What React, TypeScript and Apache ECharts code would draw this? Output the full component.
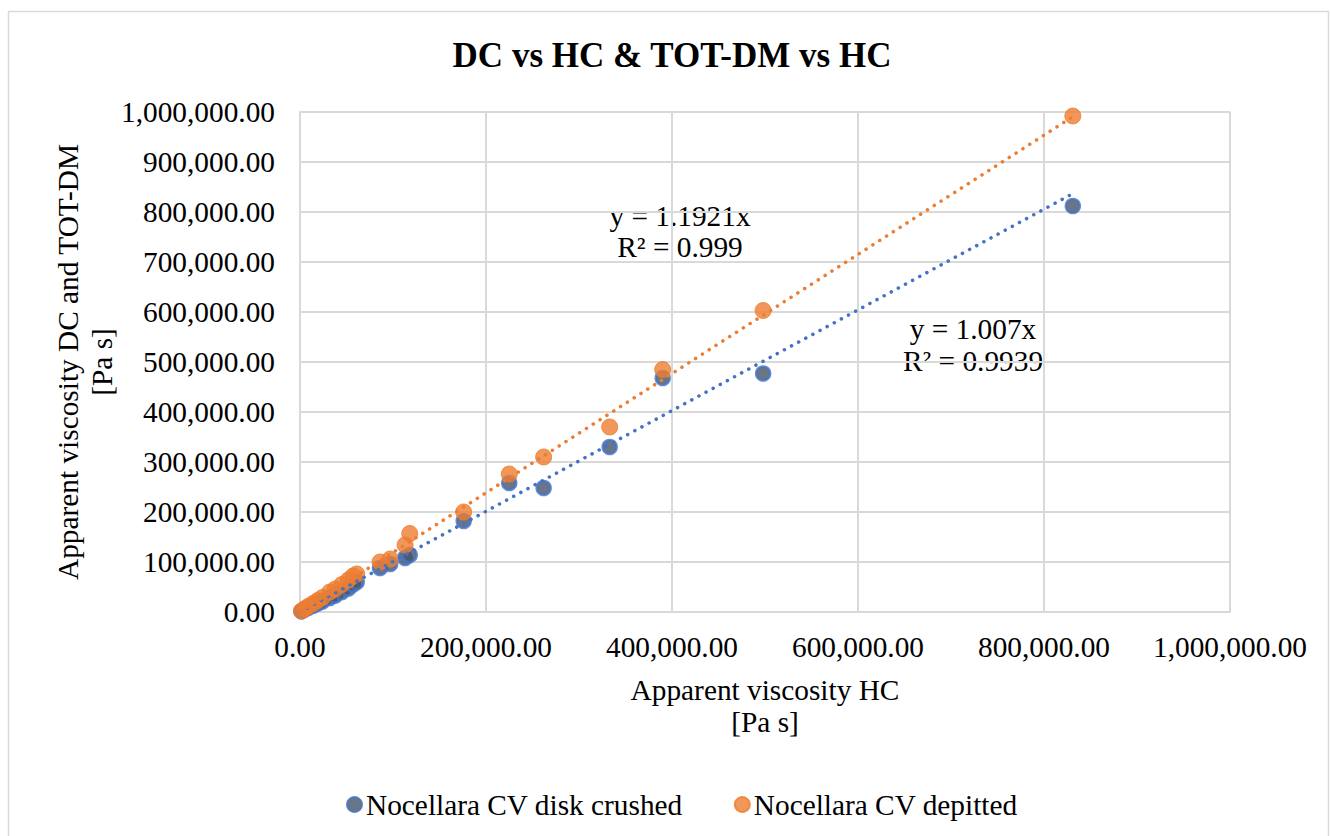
import React, { useEffect, useRef } from "react";
import * as echarts from "echarts";

const titleText = "DC vs HC & TOT-DM vs HC";
const xAxisTitle = ["Apparent viscosity HC", "[Pa s]"];
const yAxisTitle = ["Apparent viscosity DC and TOT-DM", "[Pa s]"];
const seriesNames = ["Nocellara CV disk crushed", "Nocellara CV depitted"];

// Apparent viscosity HC [Pa s]
const hc = [1500, 5000, 9000, 14000, 19000, 24000, 32000, 38000, 45000, 52000, 57000, 61000, 86000, 97000, 113000, 118000, 176000, 225000, 262000, 333000, 390000, 498000, 831000];
// Disk crushed (DC) [Pa s]
const dc = [1400, 4800, 8500, 12500, 17000, 21000, 28000, 33000, 40000, 47000, 55000, 60000, 88000, 96000, 108000, 114000, 182000, 258000, 248000, 330000, 468000, 477000, 812000];
// Depitted (TOT-DM) [Pa s]
const dm = [2000, 6500, 11500, 17000, 23000, 29000, 40000, 46000, 55000, 64000, 72000, 76000, 100000, 106000, 134000, 157000, 200000, 276000, 310000, 370000, 485000, 603000, 992000];

// Linear trendlines through origin (from the chart's equations)
const slopeDC = 1.007;
const slopeDM = 1.1921;
const eqDC = ["y = 1.007x", "R² = 0.9939"];
const eqDM = ["y = 1.1921x", "R² = 0.999"];

const axisMax = 1000000;
const xInterval = 200000;
const yInterval = 100000;

const FONT = "Liberation Serif";
const FS = 29.33;

const fmt = (v: number) =>
  v.toLocaleString("en-US", { minimumFractionDigits: 2, maximumFractionDigits: 2 });

export default function App() {
  const ref = useRef<HTMLDivElement>(null);
  useEffect(() => {
    if (!ref.current) return;
    const chart = echarts.init(ref.current, null, { renderer: "svg" });
    const xMaxData = Math.max(...hc);
    const trendX = [0, xMaxData];
    const txt = (x: number, y: number, text: string, extra: any = {}) => ({
      type: "text",
      x,
      y,
      ...extra,
      style: { text, fontFamily: FONT, fontSize: FS, fill: "#000", align: "center", verticalAlign: "middle", ...(extra.style || {}) },
    });
    const option: any = {
      animation: false,
      backgroundColor: "#fff",
      textStyle: { fontFamily: FONT, fontSize: FS, color: "#000" },
      grid: { left: 300, right: 100, top: 112, bottom: 224, containLabel: false },
      xAxis: {
        type: "value",
        min: 0,
        max: axisMax,
        interval: xInterval,
        axisLine: { show: true, lineStyle: { color: "#D9D9D9", width: 2 } },
        axisTick: { show: false },
        splitLine: { show: true, lineStyle: { color: "#D9D9D9", width: 2 } },
        axisLabel: { color: "#000", fontFamily: FONT, fontSize: FS, margin: 20, formatter: fmt },
      },
      yAxis: {
        type: "value",
        min: 0,
        max: axisMax,
        interval: yInterval,
        axisLine: { show: true, lineStyle: { color: "#D9D9D9", width: 2 } },
        axisTick: { show: false },
        splitLine: { show: true, lineStyle: { color: "#D9D9D9", width: 2 } },
        axisLabel: { color: "#000", fontFamily: FONT, fontSize: FS, margin: 25, formatter: fmt },
      },
      legend: {
        data: seriesNames,
        left: 341,
        top: 785,
        icon: "circle",
        itemWidth: 15,
        itemHeight: 15,
        itemGap: 51,
        textStyle: { color: "#000", fontFamily: FONT, fontSize: FS, padding: [0, 0, 0, -1] },
      },
      series: [
        {
          name: seriesNames[0],
          type: "scatter",
          data: hc.map((x, i) => [x, dc[i]]),
          symbolSize: 14,
          itemStyle: { color: "#44546A", borderColor: "#4472C4", borderWidth: 2.5 },
          z: 2,
        },
        {
          name: seriesNames[1],
          type: "scatter",
          data: hc.map((x, i) => [x, dm[i]]),
          symbolSize: 16,
          itemStyle: { color: "#ED7D31", borderColor: "#ED7D31", borderWidth: 1 },
          z: 3,
        },
        {
          name: "trendDC",
          type: "line",
          data: trendX.map((x) => [x, slopeDC * x]),
          symbol: "none",
          silent: true,
          lineStyle: { color: "#4472C4", width: 3.5, type: [0.1, 8], cap: "round" },
          z: 4,
        },
        {
          name: "trendDM",
          type: "line",
          data: trendX.map((x) => [x, slopeDM * x]),
          symbol: "none",
          silent: true,
          lineStyle: { color: "#ED7D31", width: 3.5, type: [0.1, 8], cap: "round" },
          z: 4,
        },
      ],
      graphic: [
        {
          type: "rect",
          shape: { x: 8.5, y: 11.5, width: 1320, height: 840 },
          style: { fill: "none", stroke: "#D9D9D9", lineWidth: 1.5 },
          z: -10,
          silent: true,
        },
        txt(672, 55, titleText, { style: { fontSize: 35, fontWeight: "bold" } }),
        txt(765, 690, xAxisTitle[0]),
        txt(765, 722, xAxisTitle[1]),
        txt(68, 362, yAxisTitle[0], { rotation: Math.PI / 2 }),
        txt(102, 362, yAxisTitle[1], { rotation: Math.PI / 2 }),
        txt(680, 216, eqDM[0]),
        txt(680, 247, eqDM[1]),
        txt(973, 329, eqDC[0]),
        txt(973, 361, eqDC[1]),
      ],
    };
    chart.setOption(option);
    return () => chart.dispose();
  }, []);
  return (
    <div
      ref={ref}
      style={{ position: "absolute", left: 0, top: 0, width: 1330, height: 836 }}
    />
  );
}
